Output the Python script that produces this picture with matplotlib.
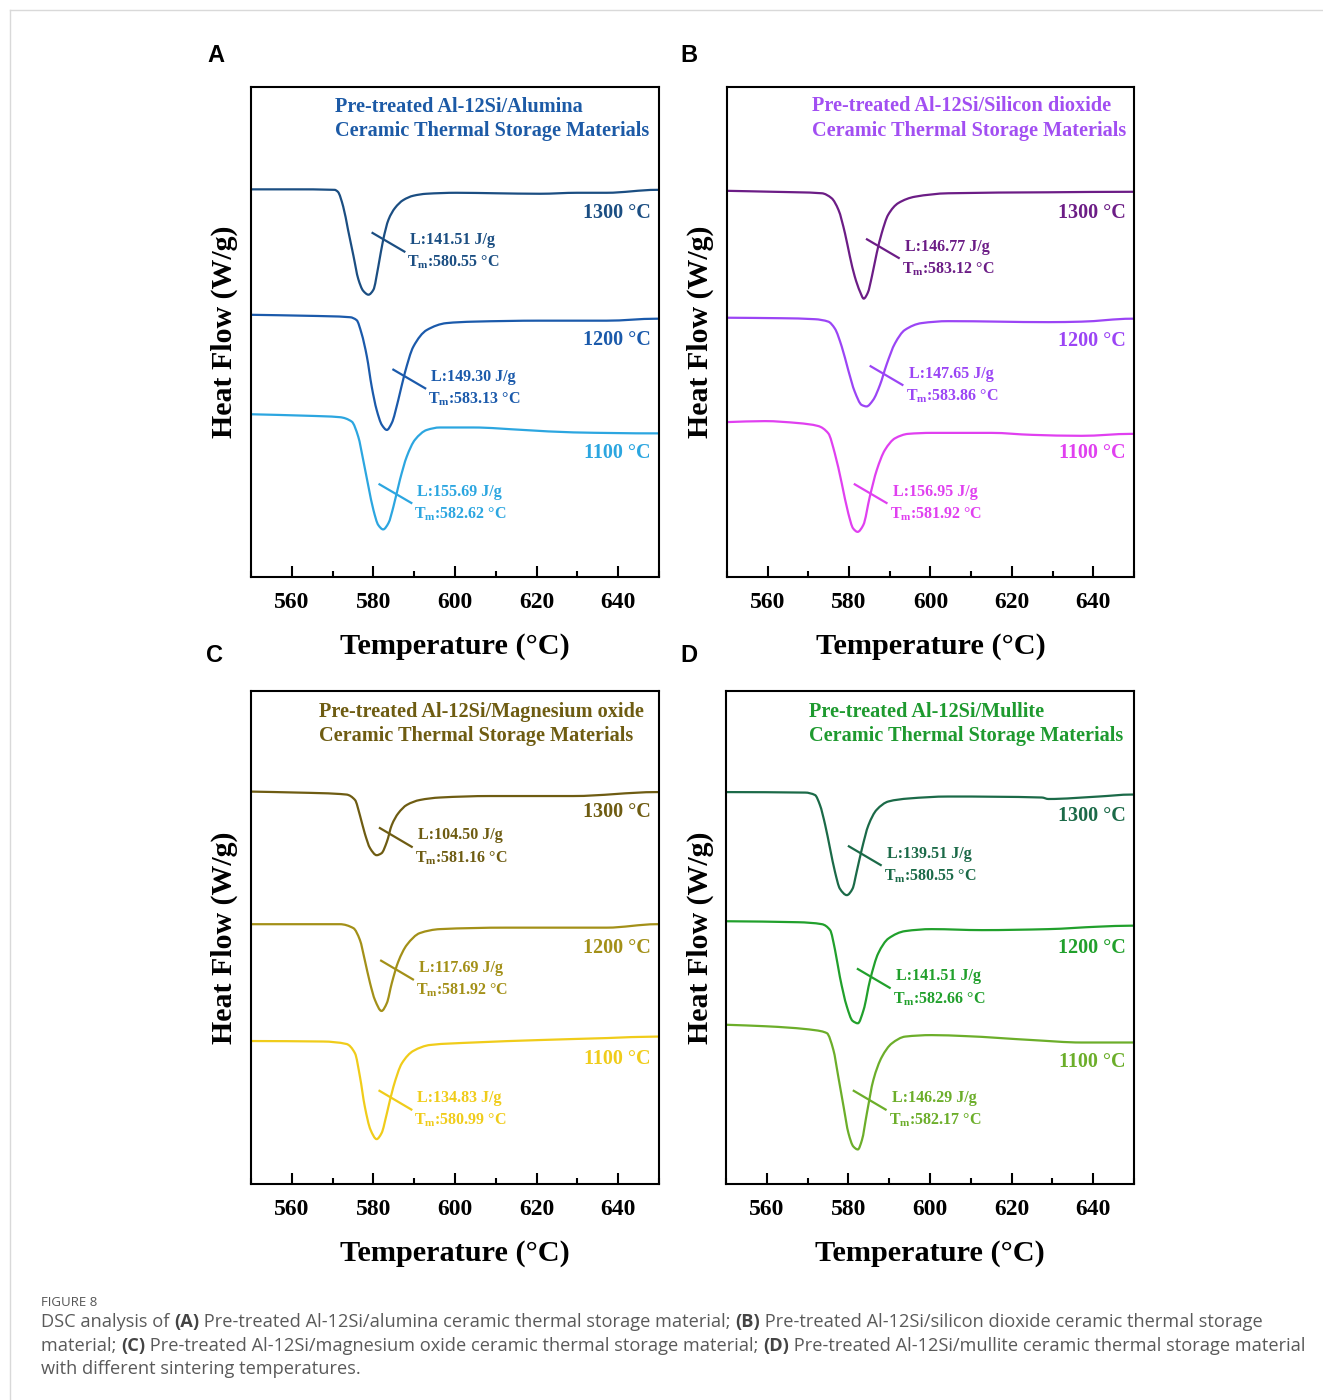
import matplotlib
matplotlib.use("Agg")
import numpy as np
import matplotlib.pyplot as plt
from matplotlib.lines import Line2D
from matplotlib.path import Path
from matplotlib.patches import PathPatch
from matplotlib.ticker import MultipleLocator

plt.rcParams["font.family"] = ["Liberation Serif", "DejaVu Serif"]
plt.rcParams["font.weight"] = "bold"
plt.rcParams["axes.labelweight"] = "bold"
plt.rcParams["mathtext.fontset"] = "custom"
plt.rcParams["mathtext.rm"] = "Liberation Serif:bold"
plt.rcParams["mathtext.it"] = "Liberation Serif:bold:italic"
plt.rcParams["mathtext.bf"] = "Liberation Serif:bold"

# ---------------- data ----------------
SINTER = ["1300 °C", "1200 °C", "1100 °C"]

# (A) alumina
T_A1300 = [550, 560, 570.5, 571.3, 572.6, 573.8, 575.1, 576.3, 577.5, 578.8, 580.0, 581.2, 582.4, 583.7,
           585.3, 587.3, 589.8, 593.0, 600.4, 610, 620.8, 630, 637.2, 649.4, 650]
HF_A1300 = [7.91, 7.91, 7.90, 7.86, 7.56, 7.08, 6.56, 6.08, 5.84, 5.76, 5.86, 6.33, 6.88, 7.29,
            7.53, 7.69, 7.78, 7.82, 7.84, 7.83, 7.82, 7.84, 7.84, 7.90, 7.90]
T_A1200 = [550, 563.6, 574.3, 575.9, 577.1, 578.4, 579.6, 580.8, 582.1, 583.3, 584.5, 586.1, 587.7,
           589.8, 593.1, 597.9, 604.5, 620.8, 637.2, 649.4, 650]
HF_A1200 = [5.35, 5.33, 5.30, 5.24, 4.97, 4.50, 3.88, 3.41, 3.10, 3.00, 3.14, 3.61, 4.16,
            4.70, 5.04, 5.18, 5.21, 5.23, 5.23, 5.27, 5.27]
T_A1100 = [550, 563.6, 571.8, 574.7, 576.3, 577.5, 578.8, 580.0, 581.2, 582.4, 583.7, 584.9, 586.5,
           588.2, 590.2, 593.1, 596.3, 604.5, 616.7, 629.0, 649.4, 650]
HF_A1100 = [3.32, 3.29, 3.26, 3.17, 2.86, 2.39, 1.84, 1.37, 1.06, 0.97, 1.10, 1.43, 1.98,
            2.46, 2.80, 3.00, 3.05, 3.05, 3.00, 2.95, 2.93, 2.93]
L_A = [141.51, 149.30, 155.69]
TM_A = [580.55, 583.13, 582.62]

# (B) silicon dioxide
T_B1300 = [550, 561.5, 573.3, 575.7, 577.4, 579.0, 580.2, 581.4, 582.7, 583.6, 584.6, 585.6, 586.8,
           588.0, 589.6, 592.1, 596.2, 604.4, 629.0, 649.4, 650]
HF_B1300 = [7.88, 7.86, 7.83, 7.73, 7.49, 7.01, 6.54, 6.13, 5.82, 5.68, 5.80, 6.13, 6.61,
            7.01, 7.39, 7.63, 7.76, 7.83, 7.85, 7.86, 7.86]
T_B1200 = [550, 563.4, 571.6, 574.9, 576.5, 578.2, 579.8, 581.4, 583.1, 584.3, 585.9, 587.6, 589.2,
           591.3, 593.7, 597.8, 604.4, 629.0, 637.1, 649.4, 650]
HF_B1200 = [5.29, 5.28, 5.26, 5.21, 5.07, 4.70, 4.22, 3.78, 3.51, 3.48, 3.61, 3.92, 4.33,
            4.77, 5.04, 5.18, 5.22, 5.20, 5.21, 5.27, 5.27]
T_B1100 = [550, 559.3, 567.5, 572.4, 574.9, 576.5, 578.2, 579.8, 581.0, 582.1, 583.5, 585.1, 586.8,
           588.8, 591.3, 594.5, 600.3, 615.0, 624.9, 637.1, 649.4, 650]
HF_B1100 = [3.16, 3.18, 3.14, 3.08, 2.93, 2.52, 1.91, 1.30, 0.99, 0.92, 1.06, 1.64, 2.18,
            2.59, 2.83, 2.92, 2.94, 2.94, 2.90, 2.88, 2.92, 2.92]
L_B = [146.77, 147.65, 156.95]
TM_B = [583.12, 583.86, 581.92]

# (C) magnesium oxide
T_C1300 = [550, 561.5, 573.4, 575.5, 576.7, 577.9, 579.2, 580.8, 582.0, 583.3, 584.5, 586.1, 588.2,
           591.4, 596.3, 608.6, 629.0, 649.4, 650]
HF_C1300 = [7.96, 7.94, 7.90, 7.79, 7.48, 7.11, 6.81, 6.67, 6.71, 6.94, 7.28, 7.52, 7.69,
            7.79, 7.84, 7.87, 7.87, 7.95, 7.95]
T_C1200 = [550, 571.8, 575.1, 576.7, 577.9, 579.2, 580.4, 582.0, 583.3, 584.5, 586.1, 588.2, 591.4,
           596.3, 612.7, 637.2, 649.4, 650]
HF_C1200 = [5.27, 5.27, 5.19, 4.95, 4.54, 4.07, 3.73, 3.51, 3.67, 4.07, 4.51, 4.85, 5.09,
            5.17, 5.20, 5.20, 5.27, 5.27]
T_C1100 = [550, 567.7, 573.4, 575.5, 576.7, 577.9, 579.3, 580.8, 582.0, 583.3, 584.9, 587.0, 589.8,
           593.9, 604.5, 620.8, 637.2, 649.4, 650]
HF_C1100 = [2.90, 2.89, 2.84, 2.65, 2.18, 1.57, 1.10, 0.91, 1.03, 1.43, 1.97, 2.45, 2.70,
            2.82, 2.87, 2.92, 2.96, 2.99, 2.99]
L_C = [104.50, 117.69, 134.83]
TM_C = [581.16, 581.92, 580.99]

# (D) mullite
T_D1300 = [550, 569.4, 571.8, 573.0, 574.3, 575.5, 576.7, 577.9, 579.6, 581.0, 582.0, 583.3, 584.9,
           586.9, 589.8, 594.7, 604.5, 627.4, 629.0, 641.3, 649.4, 650]
HF_D1300 = [7.95, 7.94, 7.89, 7.69, 7.28, 6.80, 6.33, 5.99, 5.86, 5.99, 6.33, 6.80, 7.28,
            7.59, 7.76, 7.82, 7.86, 7.84, 7.81, 7.86, 7.90, 7.90]
T_D1200 = [550, 567.7, 573.5, 575.5, 576.7, 577.9, 579.6, 581.0, 582.3, 583.7, 585.3, 587.3, 589.8,
           593.9, 600.4, 612.7, 629.0, 641.3, 649.4, 650]
HF_D1200 = [5.33, 5.31, 5.27, 5.15, 4.75, 4.20, 3.60, 3.31, 3.26, 3.53, 4.14, 4.68, 4.98,
            5.13, 5.17, 5.15, 5.17, 5.22, 5.24, 5.24]
T_D1100 = [550, 559.6, 571.8, 574.7, 576.3, 577.5, 578.8, 580.0, 581.2, 582.3, 583.3, 584.5, 586.1,
           588.2, 590.6, 593.9, 600.4, 608.6, 625.0, 637.2, 649.4, 650]
HF_D1100 = [3.23, 3.20, 3.12, 3.06, 2.72, 2.18, 1.57, 1.03, 0.76, 0.70, 0.89, 1.43, 2.11,
            2.58, 2.85, 2.99, 3.02, 3.00, 2.92, 2.87, 2.87, 2.87]
L_D = [139.51, 141.51, 146.29]
TM_D = [580.55, 582.66, 582.17]

# ---------------- layout / styling ----------------
PANELS = [
    dict(letter="A", rect=[0.1897, 0.5879, 0.3084, 0.3500], letter_xy=(0.163, 0.9607),
         title="Pre-treated Al-12Si/Alumina\nCeramic Thermal Storage Materials", title_x=0.206, title_y=0.935,
         title_color="#1c5aa6", colors=["#1b4e82", "#1b5aab", "#2ca6e0"],
         curves=[(T_A1300, HF_A1300), (T_A1200, HF_A1200), (T_A1100, HF_A1100)],
         L=L_A, TM=TM_A, temp_y=[7.43, 4.84, 2.53],
         leader=[(583.7, 6.83), (588.8, 4.04), (585.4, 1.70)]),
    dict(letter="B", rect=[0.5495, 0.5879, 0.3076, 0.3500], letter_xy=(0.5208, 0.9607),
         title="Pre-treated Al-12Si/Silicon dioxide\nCeramic Thermal Storage Materials", title_x=0.209, title_y=0.936,
         title_color="#a24ff2", colors=["#6c1d86", "#9b45f5", "#e040f0"],
         curves=[(T_B1300, HF_B1300), (T_B1200, HF_B1200), (T_B1100, HF_B1100)],
         L=L_B, TM=TM_B, temp_y=[7.43, 4.82, 2.53],
         leader=[(588.3, 6.70), (589.2, 4.11), (585.3, 1.70)]),
    dict(letter="C", rect=[0.1897, 0.1543, 0.3084, 0.3521], letter_xy=(0.1625, 0.532),
         title="Pre-treated Al-12Si/Magnesium oxide\nCeramic Thermal Storage Materials", title_x=0.167, title_y=0.933,
         title_color="#6e5c12", colors=["#6e5c12", "#a39018", "#f0cc1a"],
         curves=[(T_C1300, HF_C1300), (T_C1200, HF_C1200), (T_C1100, HF_C1100)],
         L=L_C, TM=TM_C, temp_y=[7.55, 4.79, 2.54],
         leader=[(585.5, 7.03), (585.8, 4.34), (585.4, 1.70)]),
    dict(letter="D", rect=[0.5488, 0.1543, 0.3084, 0.3521], letter_xy=(0.5208, 0.532),
         title="Pre-treated Al-12Si/Mullite\nCeramic Thermal Storage Materials", title_x=0.203, title_y=0.933,
         title_color="#1e9a2f", colors=["#1b6a48", "#21a02c", "#6cae2a"],
         curves=[(T_D1300, HF_D1300), (T_D1200, HF_D1200), (T_D1100, HF_D1100)],
         L=L_D, TM=TM_D, temp_y=[7.46, 4.79, 2.47],
         leader=[(584.0, 6.66), (586.2, 4.17), (585.2, 1.70)]),
]


def smooth_path(x, y):
    """Bezier path through the read points (monotone cubic tangents, no overshoot)."""
    x = np.asarray(x, float)
    y = np.asarray(y, float)
    h = np.diff(x)
    d = np.diff(y) / h
    m = np.zeros_like(y)
    m[0], m[-1] = d[0], d[-1]
    for k in range(1, len(x) - 1):
        if d[k - 1] * d[k] > 0:
            w1 = 2 * h[k] + h[k - 1]
            w2 = h[k] + 2 * h[k - 1]
            m[k] = (w1 + w2) / (w1 / d[k - 1] + w2 / d[k])
    verts = [(x[0], y[0])]
    codes = [Path.MOVETO]
    for k in range(len(x) - 1):
        verts += [(x[k] + h[k] / 3, y[k] + m[k] * h[k] / 3),
                  (x[k + 1] - h[k] / 3, y[k + 1] - m[k + 1] * h[k] / 3),
                  (x[k + 1], y[k + 1])]
        codes += [Path.CURVE4] * 3
    return Path(verts, codes)


def draw_panel(fig, p):
    ax = fig.add_axes(p["rect"])
    for (t, hf), c, lab, y_lab, (lt, ly), L, tm in zip(p["curves"], p["colors"], SINTER, p["temp_y"],
                                                     p["leader"], p["L"], p["TM"]):
        ax.add_patch(PathPatch(smooth_path(t, hf), facecolor="none", edgecolor=c, linewidth=1.6,
                               joinstyle="round"))
        ax.text(0.98, y_lab, lab, transform=ax.get_yaxis_transform(), color=c,
                fontsize=14.5, ha="right", va="center")
        ax.plot([lt - 3.9, lt + 3.9], [ly + 0.19, ly - 0.19], color=c, linewidth=1.6)
        ax.annotate(f"L:{L:.2f} J/g", xy=(lt, ly), xytext=(22, 2), textcoords="offset pixels",
                    color=c, fontsize=11.5, ha="left", va="center")
        ax.annotate(f"T$_{{\\mathrm{{m}}}}$:{tm:.2f} °C", xy=(lt, ly), xytext=(19, -20.5),
                    textcoords="offset pixels", color=c, fontsize=11.5, ha="left", va="center")

    ax.text(p["title_x"], p["title_y"], p["title"], transform=ax.transAxes, color=p["title_color"],
            fontsize=14.6, ha="left", va="center", linespacing=1.3)

    ax.set_xlim(550, 650)
    ax.set_ylim(0, 10)
    ax.set_yticks([])
    ax.xaxis.set_major_locator(MultipleLocator(20))
    ax.xaxis.set_minor_locator(MultipleLocator(10))
    ax.tick_params(axis="x", which="major", direction="in", length=8, width=1.5, labelsize=17, pad=11)
    ax.tick_params(axis="x", which="minor", direction="in", length=4, width=1.5)
    for s in ax.spines.values():
        s.set_linewidth(1.5)
    ax.set_xlabel("Temperature (°C)", fontsize=21.8, fontweight="bold", labelpad=14)
    ax.set_ylabel("Heat Flow (W/g)", fontsize=21.5, fontweight="bold", labelpad=9)

    fig.text(p["letter_xy"][0], p["letter_xy"][1], p["letter"], family="Liberation Sans",
             fontsize=17, fontweight="bold", ha="center", va="center")
    return ax


fig = plt.figure(figsize=(13.23, 14.0), dpi=100)
for p in PANELS:
    draw_panel(fig, p)

# light frame around the figure
fig.add_artist(Line2D([10 / 1323, 1.0], [1 - 10 / 1400] * 2, transform=fig.transFigure,
                      color="#d9d9d9", linewidth=1))
fig.add_artist(Line2D([10 / 1323] * 2, [0.0, 1 - 10 / 1400], transform=fig.transFigure,
                      color="#d9d9d9", linewidth=1))

# caption
CAP_FONT = "Open Sans"
CAP_SIZE = 13.15
fig.text(41 / 1323, 1 - 1303 / 1400, "FIGURE 8", family=CAP_FONT, fontsize=9.5, fontweight="normal",
         color="#555555", ha="left", va="center")
CAPTION = [
    [("DSC analysis of ", False), ("(A)", True),
     (" Pre-treated Al-12Si/alumina ceramic thermal storage material; ", False), ("(B)", True),
     (" Pre-treated Al-12Si/silicon dioxide ceramic thermal storage", False)],
    [("material; ", False), ("(C)", True),
     (" Pre-treated Al-12Si/magnesium oxide ceramic thermal storage material; ", False), ("(D)", True),
     (" Pre-treated Al-12Si/mullite ceramic thermal storage material", False)],
    [("with different sintering temperatures.", False)],
]
CAP_Y = [1322, 1346, 1369]
renderer = fig.canvas.get_renderer()
for line, ypx in zip(CAPTION, CAP_Y):
    x = 41
    for txt, bold in line:
        t = fig.text(x / 1323, 1 - ypx / 1400, txt, family=CAP_FONT, fontsize=CAP_SIZE,
                     fontweight="bold" if bold else "normal",
                     color="#444444" if bold else "#5a5a5a", ha="left", va="center")
        x += t.get_window_extent(renderer).width

fig.savefig("out.png", dpi=100)
